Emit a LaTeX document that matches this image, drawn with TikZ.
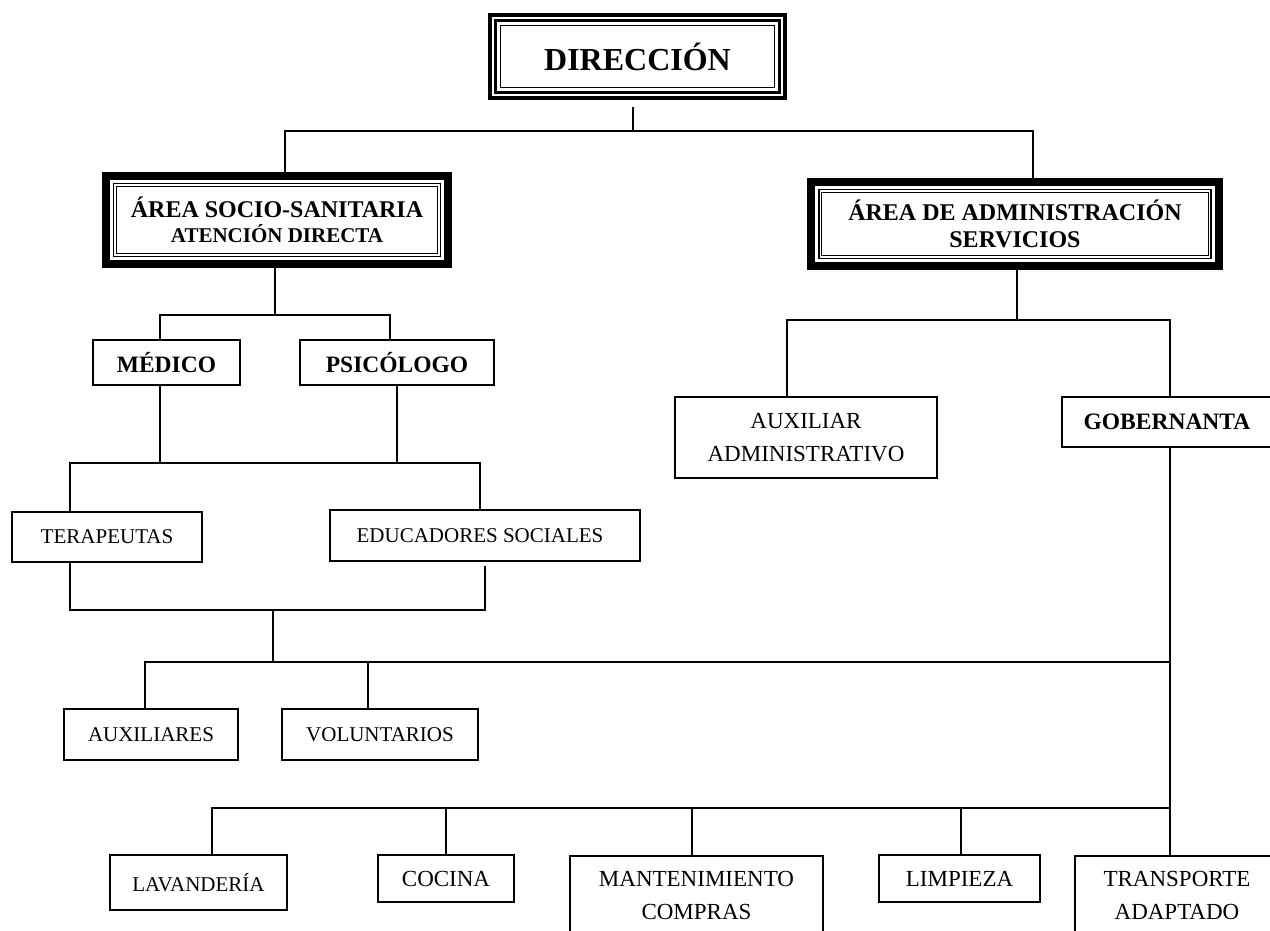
\documentclass[tikz,border=0pt]{standalone}
\usepackage{fontspec}
\setmainfont{Liberation Serif}
\newcommand\fsz[2]{\fontsize{#1}{#2}\selectfont}
\begin{document}
\begin{tikzpicture}[x=1pt,y=-1pt,
  conn/.style={line width=1.6pt},
  box/.style={draw, line width=2pt, inner sep=0pt, align=center},
  reg/.style={font=\fsz{21}{25}},
  regl/.style={font=\fsz{23}{33}},
  bld/.style={font=\bfseries\fsz{23.5}{28}},
  bigbox/.style={inner sep=0pt, align=center},
]
\useasboundingbox (0,0) rectangle (1270,930);
\fill[white] (0,0) rectangle (1270,930);
\begin{scope}
\clip (0,0) rectangle (1270,930);
% top
\node[bigbox, minimum width=299pt, minimum height=87pt, font=\bfseries\fsz{32}{36}] (dir) at (637.5,56.5) {DIRECCIÓN};
\draw[line width=4pt] ([shift={(2pt,-2pt)}]dir.north west) rectangle ([shift={(-2pt,2pt)}]dir.south east);
\draw[line width=3pt] ([shift={(8pt,-8pt)}]dir.north west) rectangle ([shift={(-8pt,8pt)}]dir.south east);
\draw[line width=1.4pt] ([shift={(12.5pt,-12.5pt)}]dir.north west) rectangle ([shift={(-12.5pt,12.5pt)}]dir.south east);
% areas
\node[bigbox, minimum width=350pt, minimum height=96pt, font=\bfseries\fsz{24}{25}] (soc) at (277,220)
  {ÁREA SOCIO-SANITARIA\\{\fsz{21}{25}ATENCIÓN DIRECTA}};
\node[bigbox, minimum width=415pt, minimum height=92pt, font=\bfseries\fsz{24}{27}] (adm) at (1015,224)
  {ÁREA DE ADMINISTRACIÓN\\SERVICIOS};
\foreach \n in {soc,adm}{
  \draw[line width=8pt] ([shift={(4pt,-4pt)}]\n.north west) rectangle ([shift={(-4pt,4pt)}]\n.south east);
  \draw[line width=1.3pt] ([shift={(11.6pt,-11.6pt)}]\n.north west) rectangle ([shift={(-11.6pt,11.6pt)}]\n.south east);
  \draw[line width=1.3pt] ([shift={(14.5pt,-14.5pt)}]\n.north west) rectangle ([shift={(-14.5pt,14.5pt)}]\n.south east);
}
% left branch
\node[box, bld, minimum width=147pt, minimum height=45pt] (med) at (166.5,362.5) {MÉDICO};
\node[box, bld, minimum width=194pt, minimum height=45pt] (psi) at (397,362.5) {PSICÓLOGO};
\node[box, reg, minimum width=190pt, minimum height=50pt] (ter) at (107,537) {TERAPEUTAS};
\node[box, reg, minimum width=310pt, minimum height=51pt] (edu) at (485,535.5) {\hspace*{-10pt}EDUCADORES SOCIALES};
\node[box, reg, minimum width=174pt, minimum height=51pt] (aux) at (151,734.5) {AUXILIARES};
\node[box, reg, minimum width=196pt, minimum height=51pt] (vol) at (380,734.5) {VOLUNTARIOS};
% right branch
\node[box, regl, minimum width=262pt, minimum height=81pt] (auxadm) at (806,437.5) {AUXILIAR\\ADMINISTRATIVO};
\node[box, bld, minimum width=216pt, minimum height=50pt] (gob) at (1170,422) {\hspace*{-6pt}GOBERNANTA};
% bottom row
\node[box, reg, minimum width=177pt, minimum height=55pt] (lav) at (198.5,882.5) {LAVANDERÍA};
\node[box, regl, minimum width=136pt, minimum height=47pt] (coc) at (446,878.5) {COCINA};
\node[box, regl, minimum width=253pt, anchor=north, inner ysep=15pt, text depth=70pt] (man) at (696.5,855) {MANTENIMIENTO\\COMPRAS};
\node[box, regl, minimum width=161pt, minimum height=47pt] (lim) at (959.5,878.5) {LIMPIEZA};
\node[box, regl, minimum width=210pt, anchor=north, inner ysep=15pt, text depth=70pt] (tra) at (1180,855) {\hspace*{-6pt}TRANSPORTE\\\hspace*{-6pt}ADAPTADO};
% connectors
\draw[conn] ([shift={(-4.5pt,-7pt)}]dir.south) -- ++(0,24) coordinate (b1);
\draw[conn] ([xshift=8pt]soc.north) |- (b1) -| ([xshift=18pt]adm.north);
\draw[conn] ([xshift=-2pt]soc.south) -- ++(0,47) coordinate (b2);
\draw[conn] ([xshift=-6.5pt]med.north) |- (b2) -| ([xshift=-7pt]psi.north);
\draw[conn] ([xshift=-6.5pt]med.south) -- ++(0,77) coordinate (b3);
\draw[conn] (psi.south) -- (psi.south |- b3);
\draw[conn] ([xshift=-37pt]ter.north) |- (b3) -| ([xshift=-5pt]edu.north);
\coordinate (b4) at (273,610);
\draw[conn] ([xshift=-37pt]ter.south) |- (b4) -| ([yshift=-4pt]edu.south);
\draw[conn] (b4) -- ++(0,52) coordinate (b5);
\draw[conn] ([xshift=-6pt]aux.north) |- (b5);
\draw[conn] ([xshift=-12pt]vol.north) -- ([xshift=-12pt]vol.north |- b5);
\draw[conn] (b5) -- (gob.south |- b5);
\draw[conn] ([xshift=2pt]adm.south) -- ++(0,50) coordinate (b7);
\draw[conn] ([xshift=-19pt]auxadm.north) |- (b7) -| (gob.north);
\draw[conn] (gob.south) -- ([xshift=-10pt]tra.north);
\coordinate (b8) at (1170,808);
\draw[conn] ([xshift=13.5pt]lav.north) |- (b8);
\draw[conn] (coc.north) -- (coc.north |- b8);
\draw[conn] ([xshift=-4.5pt]man.north) -- ([xshift=-4.5pt]man.north |- b8);
\draw[conn] ([xshift=1.5pt]lim.north) -- ([xshift=1.5pt]lim.north |- b8);
\end{scope}
\end{tikzpicture}
\end{document}
